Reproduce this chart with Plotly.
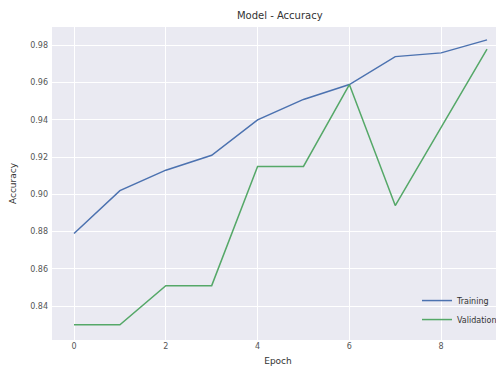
import plotly.graph_objects as go

epochs = [0, 1, 2, 3, 4, 5, 6, 7, 8, 9]
training = [0.879, 0.902, 0.913, 0.921, 0.940, 0.951, 0.959, 0.974, 0.976, 0.983]
validation = [0.830, 0.830, 0.851, 0.851, 0.915, 0.915, 0.959, 0.894, 0.936, 0.978]
x_ticks = [0, 2, 4, 6, 8]
y_ticks = [0.84, 0.86, 0.88, 0.90, 0.92, 0.94, 0.96, 0.98]

fig = go.Figure()
fig.add_trace(go.Scatter(x=epochs, y=training, mode="lines", name="Training",
                         line=dict(color="#4C72B0", width=1.5)))
fig.add_trace(go.Scatter(x=epochs, y=validation, mode="lines", name="Validation",
                         line=dict(color="#55A868", width=1.5)))

font = "DejaVu Sans"
fig.update_layout(
    width=496, height=358,
    margin=dict(l=44, r=0, t=19, b=26, pad=0),
    paper_bgcolor="white",
    plot_bgcolor="#EAEAF2",
    font=dict(family=font, size=8, color="#333333"),
    title=dict(text="Model - Accuracy", x=0.548, xanchor="center", y=0.980, yanchor="middle",
               font=dict(family=font, size=10, color="#333333")),
    showlegend=True,
    legend=dict(x=0.8075, xanchor="left", y=0.019, yanchor="bottom",
                bgcolor="rgba(0,0,0,0)", font=dict(size=8, color="#333333"),
                tracegroupgap=0, itemwidth=30),
    xaxis=dict(range=[-0.48, 9.37], tickvals=x_ticks, ticktext=[str(v) for v in x_ticks],
               showgrid=True, gridcolor="white", gridwidth=1, zeroline=False,
               showline=False, ticks="", tickfont=dict(size=8, color="#555555"),
               automargin=False, ticklabelstandoff=0,
               title=dict(text="Epoch", font=dict(size=9, color="#333333"), standoff=9)),
    yaxis=dict(range=[0.8218, 0.9899], tickvals=y_ticks,
               ticktext=[f"{v:.2f}" for v in y_ticks],
               showgrid=True, gridcolor="white", gridwidth=1, zeroline=False,
               showline=False, ticks="", tickfont=dict(size=8, color="#555555"),
               automargin=False, ticklabelstandoff=3,
               title=dict(text="Accuracy", font=dict(size=9, color="#333333"), standoff=12)),
)

fig.write_html("out.html")
